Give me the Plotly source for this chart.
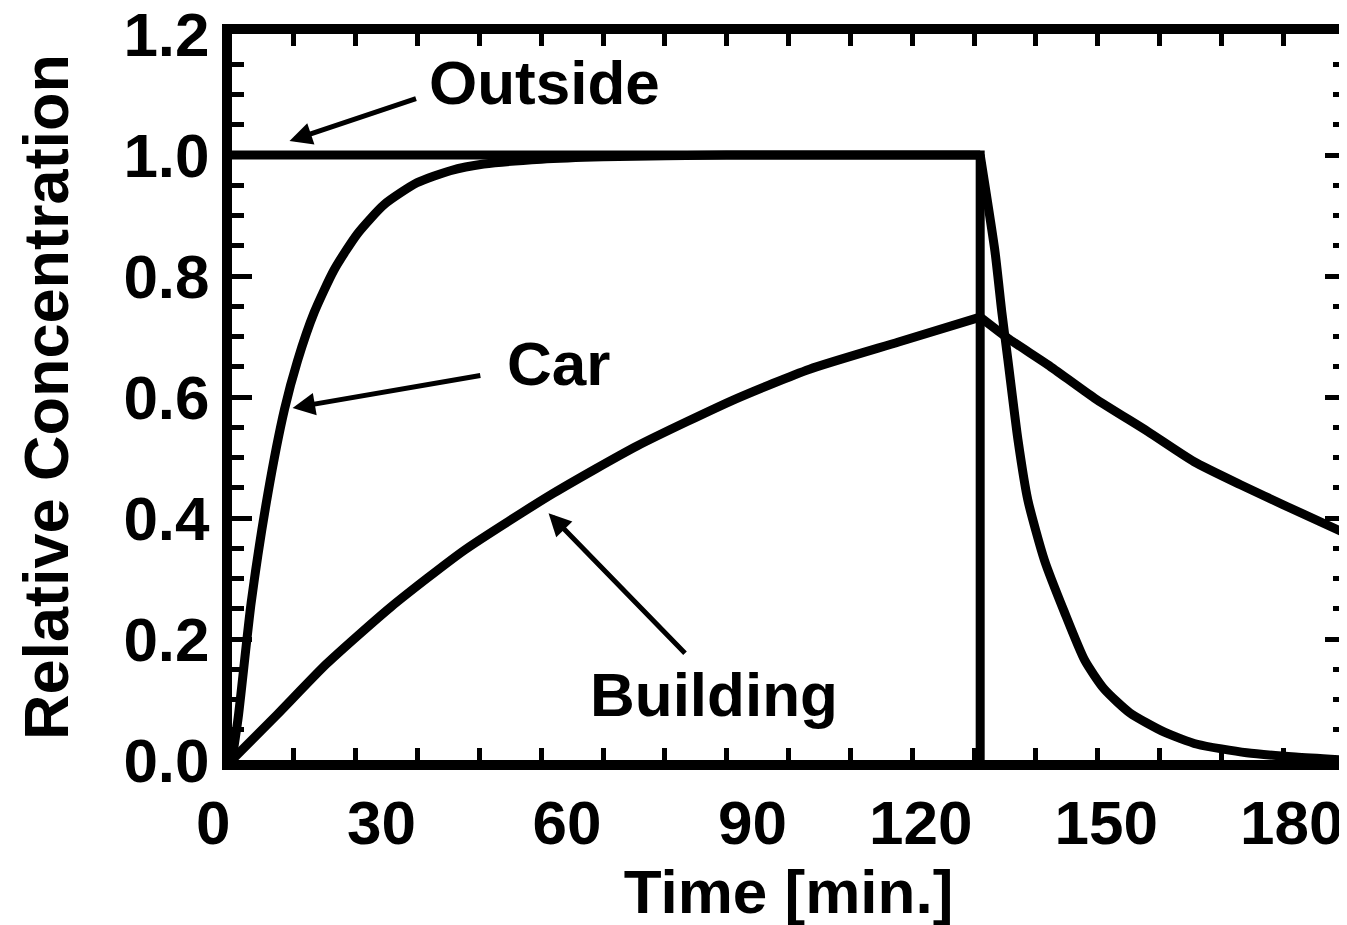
import plotly.graph_objects as go

# time in minutes, relative concentration
outside_t = [0, 121, 121]
outside_c = [1.0, 1.0, 0.0]

car_rise_t = [0, 1, 3.1, 5.8, 8.5, 10.6, 13.3, 16.5, 20.3, 24.6, 29.9, 35.3, 40.7,
              50, 60, 80, 100, 121]
car_rise_c = [0, 0.07, 0.26, 0.44, 0.58, 0.66, 0.74, 0.81, 0.87, 0.918, 0.954, 0.974, 0.985,
              0.993, 0.997, 1.0, 1.0, 1.0]
car_fall_t = [121, 123.4, 124.5, 125.5, 127.1, 128.7, 131.4, 134.6, 137.9, 141, 145.2,
              150.8, 156.1, 164.1, 172, 180]
car_fall_c = [1.0, 0.84, 0.74, 0.66, 0.53, 0.43, 0.33, 0.245, 0.165, 0.118, 0.078,
              0.046, 0.026, 0.012, 0.005, 0.0]

building_rise_t = [0, 7.3, 15.3, 25.7, 37.6, 52, 65.5, 81.5, 93.4, 107.8, 121]
building_rise_c = [0, 0.075, 0.159, 0.253, 0.347, 0.441, 0.519, 0.597, 0.646, 0.691, 0.732]
building_fall_t = [121, 125.5, 132, 139.5, 148.1, 155.6, 163.1, 170.6, 180]
building_fall_c = [0.732, 0.697, 0.653, 0.598, 0.543, 0.493, 0.455, 0.419, 0.375]

x_ticks = [0, 30, 60, 90, 120, 150, 180]
y_ticks = [0.0, 0.2, 0.4, 0.6, 0.8, 1.0, 1.2]

FONT = "Liberation Sans"
BLACK = "black"

fig = go.Figure()
fig.add_trace(go.Scatter(x=outside_t, y=outside_c, mode="lines",
                         line=dict(color=BLACK, width=9), hoverinfo="skip"))
for t, c in [(car_rise_t, car_rise_c), (car_fall_t, car_fall_c),
             (building_rise_t, building_rise_c), (building_fall_t, building_fall_c)]:
    fig.add_trace(go.Scatter(
        x=t, y=c, mode="lines",
        line=dict(color=BLACK, width=9, shape="spline", smoothing=0.6),
        hoverinfo="skip",
    ))

# labels: (text, x, y) and arrows: (tail_x, tail_y, head_x, head_y)
labels = [("Outside", 50.6, 1.12), ("Car", 52.8, 0.655), ("Building", 78, 0.108)]
arrows = [(30, 1.094, 9.3, 1.023), (40.4, 0.636, 9.8, 0.582), (73.5, 0.174, 51.2, 0.408)]

for text, x, y in labels:
    fig.add_annotation(x=x, y=y, text=text, showarrow=False,
                       font=dict(family=FONT, size=62, color=BLACK, weight="bold"))

for ax, ay, x, y in arrows:
    fig.add_annotation(x=x, y=y, ax=ax, ay=ay, axref="x", ayref="y", text="",
                       showarrow=True, arrowhead=2, arrowsize=0.9, arrowwidth=5,
                       arrowcolor=BLACK, standoff=0)

axis_common = dict(
    showline=True, linewidth=10, linecolor=BLACK, mirror="allticks",
    ticks="inside", tickwidth=5, tickcolor=BLACK, automargin=False,
    showgrid=False, zeroline=False, ticklabeloverflow="allow",
)

fig.update_layout(
    width=1347, height=925,
    margin=dict(l=224, r=10, t=26, b=173),
    paper_bgcolor="white", plot_bgcolor="white",
    showlegend=False,
    xaxis=dict(
        range=[0, 180], tickvals=x_ticks, ticklen=12,
        ticklabelposition="outside left", ticklabelshift=6,
        tickfont=dict(family=FONT, size=62, color=BLACK, weight="bold"),
        minor=dict(dtick=10, ticks="inside", ticklen=12, tickwidth=5, tickcolor=BLACK),
        title=dict(text="Time [min.]", standoff=0,
                   font=dict(family=FONT, size=62, color=BLACK, weight="bold")),
        **axis_common,
    ),
    yaxis=dict(
        range=[0, 1.2], tickvals=y_ticks, tickformat=".1f", ticklen=20,
        tickfont=dict(family=FONT, size=62, color=BLACK, weight="bold"),
        minor=dict(dtick=0.05, ticks="inside", ticklen=12, tickwidth=5, tickcolor=BLACK),
        title=dict(text="Relative Concentration", standoff=38,
                   font=dict(family=FONT, size=63, color=BLACK, weight="bold")),
        **axis_common,
    ),
)

fig.write_html("out.html")
